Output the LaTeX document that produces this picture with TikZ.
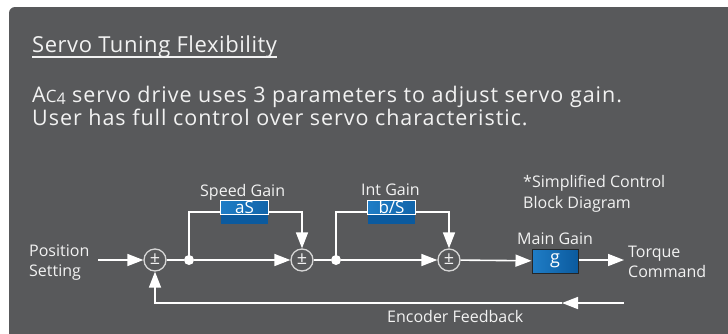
\documentclass[tikz,border=0pt]{standalone}
\usepackage{fontspec}
\setmainfont{Open Sans}
\usetikzlibrary{arrows.meta}
\definecolor{panel}{HTML}{58595B}
\definecolor{txt}{HTML}{F2F2F2}
\definecolor{blueL}{HTML}{1F7DC6}
\definecolor{blueD}{HTML}{0B5A9E}
\definecolor{ring}{HTML}{D6D6D6}
\newcommand{\fs}[1]{\fontsize{#1}{#1}\selectfont}
\begin{document}
\begin{tikzpicture}[x=1pt,y=-1pt,
  lbl/.style={text=txt, font=\fs{16}, inner sep=0pt, anchor=base west},
  head/.style={text=txt, inner sep=0pt, anchor=base west},
  wire/.style={draw=white, line width=1.6pt},
  arr/.style={wire, -{Triangle[length=16pt,width=12pt]}},
  sumnode/.style={circle, draw=ring, line width=1.3pt, minimum size=22pt, inner sep=0pt, fill=panel, text=txt, font=\fs{18}},
  junct/.style={circle, fill=white, minimum size=10pt, inner sep=0pt},
  gainbox/.style={minimum width=47pt, minimum height=23pt, inner sep=0pt, fill=blueD},
  boxtxt/.style={text=white, font=\fs{17}, inner sep=0pt},
]
\useasboundingbox (0,0) rectangle (728,333);
\fill[white] (0,0) rectangle (728,333);
\fill[panel, rounded corners=6pt] (9,7) rectangle (745,350);

% header texts
\node[head, font=\fs{22}\addfontfeature{LetterSpace=2.5}] (title) at (32,52) {Servo Tuning Flexibility};
\draw[txt, line width=1.3pt] (32,57) -- (title.base east |- 0,57);
\node[head, font=\fs{21.5}\addfontfeature{LetterSpace=4.5}] (l1) at (32,102)
  {A{\fs{17}C}\raisebox{-2pt}{\fs{16}4} servo drive uses 3 parameters to adjust servo gain.};
\node[head, font=\fs{21.5}\addfontfeature{LetterSpace=4.5}] (l2) at (32,125)
  {User has full control over servo characteristic.};

% blocks
\node[sumnode] (s1) at (155,260) {\raisebox{1pt}{±}};
\node[sumnode] (s2) at (302,260) {\raisebox{1pt}{±}};
\node[sumnode] (s3) at (449,260) {\raisebox{1pt}{±}};
\node[junct] (b1) at (189,260) {};
\node[junct] (b2) at (336,260) {};

\node[gainbox] (gs) at (244.5,212) {};
\fill[left color=blueL, right color=blueD!70!blueL] (gs.north west) rectangle ([yshift=-14pt]gs.north east);
\draw[white, line width=0.7pt] (gs.north west) rectangle ([yshift=-14pt]gs.north east);
\node[boxtxt] at ([yshift=-7pt]gs.north) {aS};

\node[gainbox] (gi) at (391.5,212) {};
\fill[left color=blueL, right color=blueD!70!blueL] (gi.north west) rectangle ([yshift=-14pt]gi.north east);
\draw[white, line width=0.7pt] (gi.north west) rectangle ([yshift=-14pt]gi.north east);
\node[boxtxt] at ([yshift=-7pt]gi.north) {b/S};

\node[minimum width=46pt, minimum height=24pt, inner sep=0pt, draw=black!85, line width=1pt,
      left color=blueL, right color=blueD, text=white, font=\fs{18}] (gm) at (555,261) {g};

% labels
\node[lbl] (lp1) at (29,256) {Position};
\node[lbl] (lp2) at (29,276) {Setting};
\node[lbl] (lsg) at (200,196) {Speed Gain};
\node[lbl] (lig) at (361,195) {Int Gain};
\node[lbl] (lsc1) at (523,187) {*Simplified Control};
\node[lbl] (lsc2) at (523,208) {Block Diagram};
\node[lbl] (lmg) at (517,244) {Main Gain};
\node[lbl] (ltq1) at (628,257) {Torque};
\node[lbl] (ltq2) at (628,277) {Command};
\node[lbl] (lef) at (387,322) {Encoder Feedback};

% connectors
\coordinate (pin) at (98,260);
\coordinate (tq) at (624,260);
\coordinate (fbR) at (624,303);
\coordinate (fbM) at (562,303);

\draw[arr] (pin) -- (s1);
\draw[wire] (s1) -- (b1);
\draw[arr] (b1) -- (s2);
\draw[wire] (b1.center) |- (gs.west);
\draw[arr] (gs.east) -| (s2.north);
\draw[wire] (s2) -- (b2);
\draw[arr] (b2) -- (s3);
\draw[wire] (b2.center) |- (gi.west);
\draw[arr] (gi.east) -| (s3.north);
\draw[arr] (s3) -- (gm);
\draw[arr] (gm.east |- tq) -- (tq);
\draw[arr] (fbR) -- (fbM);
\draw[arr] (fbM) -| (s1.south);
\end{tikzpicture}
\end{document}
